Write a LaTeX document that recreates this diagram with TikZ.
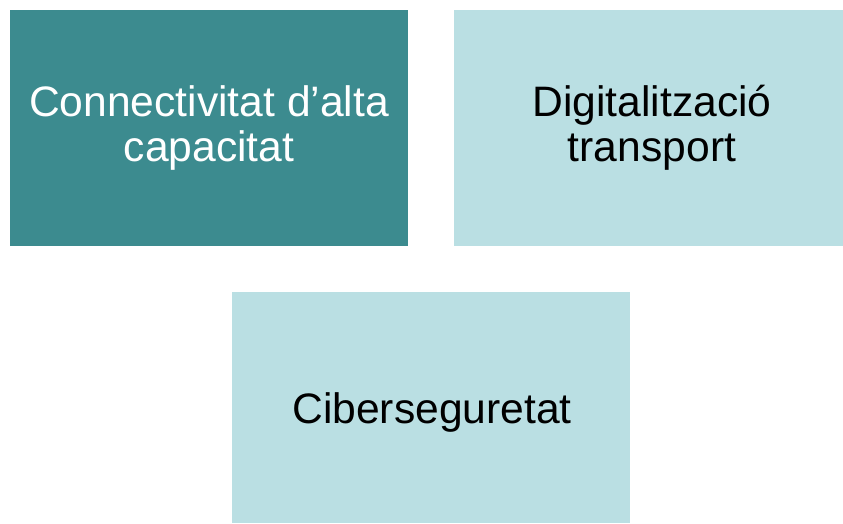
\documentclass[tikz,border=0pt]{standalone}
\usepackage{fontspec}
\setmainfont{Liberation Sans}
\definecolor{darkteal}{HTML}{3C8B8F}
\definecolor{lightteal}{HTML}{BADFE3}
\begin{document}
\begin{tikzpicture}[x=1pt,y=-1pt,
  boxtxt/.style={align=center,font=\fontsize{42.6}{45}\selectfont,inner sep=0pt}]
\useasboundingbox (0,0) rectangle (843,523);
\fill[darkteal] (10,10) rectangle (408,246);
\fill[lightteal] (454,10) rectangle (843,246);
\fill[lightteal] (232,292) rectangle (630,523);
\node[boxtxt,text=white] (a) at (209,128) {Connectivitat d’alta\\capacitat};
\node[boxtxt,text=black] (b) at (652,128) {Digitalització\\transport};
\node[boxtxt,text=black] (c) at (432,412) {Ciberseguretat};
\end{tikzpicture}
\end{document}
